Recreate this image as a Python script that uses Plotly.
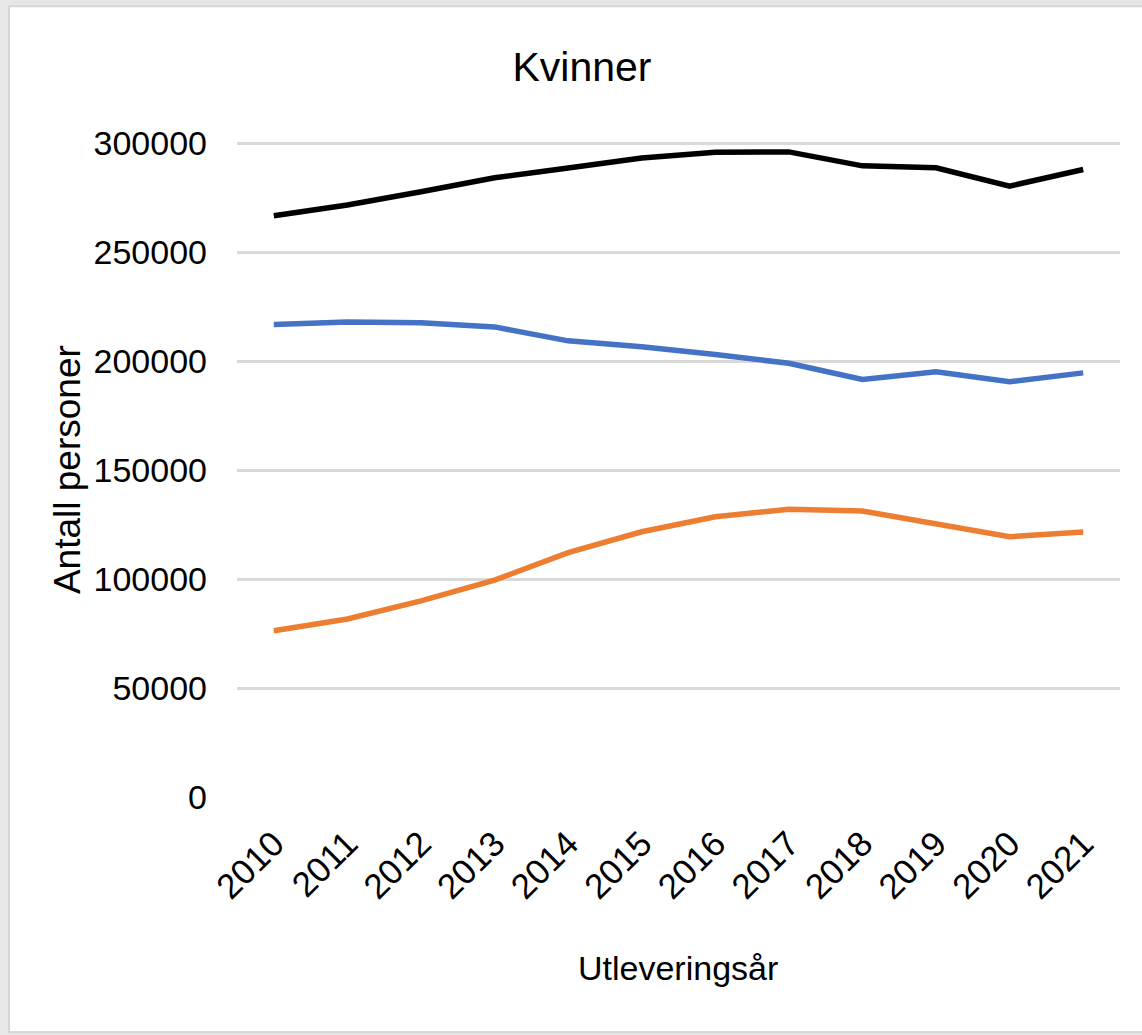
import plotly.graph_objects as go

years = ["2010", "2011", "2012", "2013", "2014", "2015", "2016", "2017", "2018", "2019", "2020", "2021"]
black_vals = [266700, 271600, 277700, 284100, 288600, 293200, 295800, 296000, 289600, 288700, 280300, 287900]
blue_vals = [216800, 218000, 217600, 215700, 209300, 206600, 203000, 199000, 191600, 195100, 190500, 194600]
orange_vals = [76300, 81700, 90000, 99500, 112100, 121700, 128600, 132000, 131200, 125100, 119400, 121600]
y_ticks = [0, 50000, 100000, 150000, 200000, 250000, 300000]

W, H = 1142, 1035
Y_MAX = 301000
L, R, B = 237, 1120, 797
T = B - (B - 143) * Y_MAX / 300000  # so that 300000 lands at px 143

def px_x(p):
    return (p - L) / (R - L)

def px_y(p):
    return (B - p) / (B - T)

FONT = "Liberation Sans, Arial, sans-serif"

fig = go.Figure()
for vals, col in [(black_vals, "#000000"), (blue_vals, "#4472C4"), (orange_vals, "#ED7D31")]:
    fig.add_trace(go.Scatter(x=years, y=vals, mode="lines",
                             line=dict(color=col, width=5.5), showlegend=False))

fig.update_layout(
    width=W, height=H,
    margin=dict(l=L, r=W - R, t=T, b=H - B),
    paper_bgcolor="#e6e6e6",
    plot_bgcolor="white",
    font=dict(family=FONT, color="#000000"),
    title=dict(text="Kvinner", x=582 / W, xanchor="center", y=1 - 67 / H, yanchor="middle",
               yref="container", xref="container", font=dict(size=41, family=FONT, color="#000")),
    shapes=[dict(type="rect", xref="paper", yref="paper",
                 x0=px_x(9), x1=px_x(W + 5), y0=px_y(1032), y1=px_y(6),
                 fillcolor="white", line=dict(color="#d6d6d6", width=2), layer="below")],
    annotations=[
        dict(text="Antall personer", xref="paper", yref="paper", x=px_x(67), y=px_y(470),
             textangle=-90, showarrow=False, font=dict(size=37, family=FONT, color="#000"),
             xanchor="center", yanchor="middle"),
        dict(text="Utleveringsår", xref="paper", yref="paper", x=px_x(678), y=px_y(968),
             showarrow=False, font=dict(size=34, family=FONT, color="#000"),
             xanchor="center", yanchor="middle"),
    ],
)

fig.update_xaxes(type="category", range=[-0.5, 11.5], tickangle=-45,
                 tickfont=dict(size=35, family=FONT, color="#000"),
                 showgrid=False, showline=False, zeroline=False, ticks="",
                 ticklabelstandoff=18)
fig.update_yaxes(range=[0, Y_MAX], tickvals=y_ticks, ticktext=[str(v) for v in y_ticks],
                 tickfont=dict(size=34, family=FONT, color="#000"),
                 showgrid=True, gridcolor="#d9d9d9", gridwidth=2.5,
                 zeroline=False, showline=False, ticks="", ticklabelstandoff=29)

fig.write_html("out.html", config={"displayModeBar": False},
               post_script="document.body.style.margin='0';document.body.style.padding='0';"
                           "document.body.style.background='#e6e6e6';")
